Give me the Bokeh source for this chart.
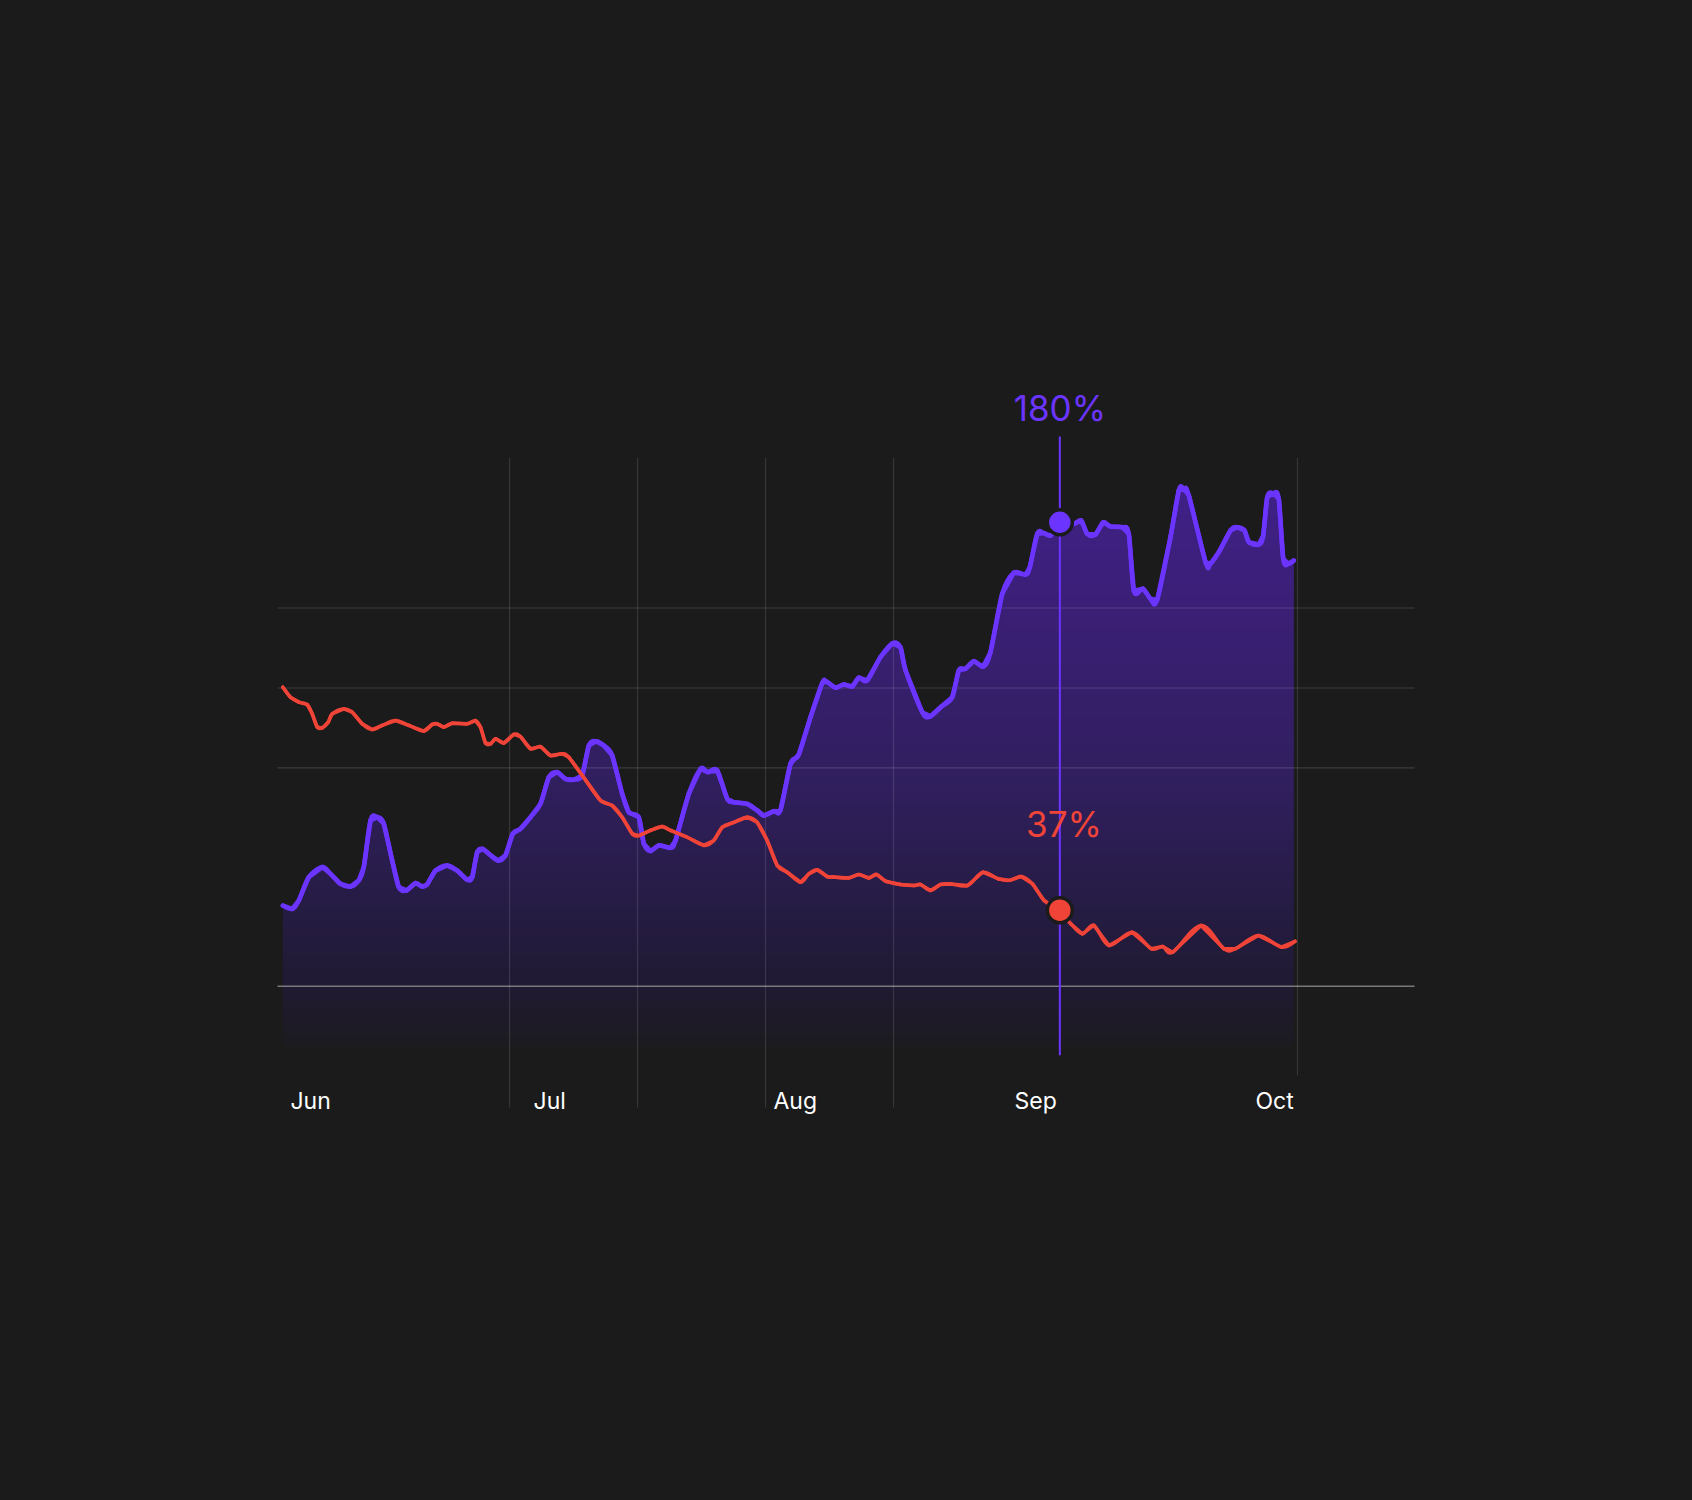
import numpy as np
from bokeh.plotting import figure
from bokeh.models import Range1d
from bokeh.core.properties import value
from bokeh.embed import file_html
from bokeh.resources import INLINE

# ---------------- data ----------------
months = ["Jun", "Jul", "Aug", "Sep", "Oct"]
month_label_day = [0.96, 30.26, 59.19, 88.25, 117.3]

growth_day = [0.04, 1.17, 1.97, 3.17, 4.79, 5.79, 6.99, 8.20, 9.20, 9.80,
              10.61, 11.42, 12.21, 13.22, 14.02, 14.95, 16.03, 16.84, 17.44, 18.44,
              19.86, 21.06, 22.27, 22.87, 23.47, 24.15, 24.87, 26.00, 26.88, 27.76,
              28.69, 29.90, 31.10, 32.10, 33.12, 34.12, 35.12, 36.13, 36.93, 37.82,
              38.73, 39.75, 40.95, 41.75, 42.95, 43.56, 44.36, 45.36, 46.78, 47.38,
              48.98, 50.39, 51.27, 52.41, 53.61, 54.41, 56.02, 57.23, 58.02, 59.23,
              60.04, 61.24, 62.24, 63.65, 65.06, 65.58, 66.67, 67.67, 68.68, 69.48,
              70.49, 72.09, 73.54, 74.50, 75.11, 77.12, 78.12, 79.33, 80.74, 81.53,
              82.34, 83.34, 84.47, 85.35, 86.76, 88.16, 89.57, 90.09, 90.98, 91.78,
              92.59, 93.71, 95.39, 96.29, 97.01, 98.01, 98.94, 99.82, 101.23, 102.03,
              102.63, 103.75, 104.63, 105.45, 107.05, 108.05, 108.66, 109.26, 111.27, 111.87,
              112.88, 114.29, 115.09, 115.97, 116.49, 117.70, 118.23, 118.71, 119.43, 120.11,
              120.64, 121.31, 121.92]
growth_pct = [38.7, 37.5, 40.6, 49.2, 52.9, 50.4, 46.7, 45.7, 48.0, 52.9,
              70.1, 71.3, 68.9, 55.3, 45.5, 44.3, 47.0, 45.7, 46.5, 51.6,
              53.5, 51.6, 48.2, 49.2, 58.4, 59.6, 57.8, 55.3, 57.2, 65.2,
              67.0, 71.3, 76.2, 86.0, 87.9, 85.4, 85.1, 86.7, 97.7, 99.3,
              97.7, 94.0, 79.9, 73.1, 71.3, 61.5, 58.8, 60.9, 60.0, 62.7,
              79.9, 89.1, 87.9, 88.5, 78.1, 76.8, 76.2, 73.8, 71.9, 73.5,
              74.0, 91.0, 94.4, 108.1, 120.7, 121.3, 119.0, 120.2, 119.5, 122.7,
              121.7, 130.3, 135.4, 133.9, 125.4, 110.0, 108.5, 111.8, 115.5, 125.4,
              126.0, 128.8, 126.8, 132.1, 153.6, 161.4, 160.7, 163.4, 175.7, 176.0,
              175.1, 178.5, 179.4, 180.6, 175.7, 175.5, 180.0, 178.4, 178.2, 175.7,
              154.8, 155.5, 151.8, 151.4, 174.5, 191.7, 192.3, 189.9, 165.3, 164.7,
              169.0, 177.0, 178.2, 177.0, 172.7, 171.8, 175.1, 189.2, 190.7, 188.6,
              166.5, 164.7, 165.9]

loss_day = [0.04, 0.96, 1.97, 2.98, 3.58, 4.18, 4.79, 5.51, 5.99, 7.39,
            8.40, 9.61, 10.81, 12.02, 13.62, 15.23, 17.03, 18.05, 18.65, 19.45,
            20.46, 22.27, 23.27, 23.87, 24.47, 25.08, 25.68, 26.68, 27.88, 28.69,
            29.90, 31.10, 32.31, 33.72, 34.52, 36.13, 38.34, 39.75, 40.95, 42.16,
            42.95, 44.36, 45.77, 46.78, 48.79, 50.79, 51.99, 53.01, 54.41, 56.02,
            57.23, 58.43, 59.64, 60.84, 62.45, 63.45, 64.46, 65.67, 66.46, 68.27,
            69.48, 70.68, 71.61, 72.69, 74.50, 76.10, 76.91, 78.12, 79.33, 80.53,
            82.58, 84.42, 86.27, 87.64, 89.04, 90.42, 91.81, 93.66, 95.03, 96.42,
            97.81, 99.65, 102.41, 104.73, 106.11, 107.31, 110.73, 113.49, 114.88, 117.64,
            120.41, 122.07]
loss_pct = [119.2, 115.5, 113.7, 112.8, 109.4, 104.5, 104.2, 106.3, 109.4, 111.2,
            110.0, 105.7, 103.6, 105.1, 106.9, 105.1, 103.0, 105.5, 105.7, 104.5,
            105.9, 105.7, 106.9, 104.5, 98.6, 98.3, 100.2, 98.6, 101.8, 101.0,
            96.5, 97.3, 94.0, 94.7, 93.4, 86.7, 77.4, 75.6, 71.3, 65.2,
            64.5, 66.4, 67.9, 66.4, 63.9, 60.9, 62.7, 67.6, 69.4, 71.3,
            69.4, 62.7, 53.5, 51.0, 47.3, 50.4, 51.9, 49.4, 49.2, 48.9,
            50.2, 48.9, 50.2, 47.7, 46.5, 46.1, 46.5, 44.3, 46.5, 46.7,
            46.1, 51.0, 48.6, 48.0, 49.4, 46.7, 40.6, 37.0, 32.0, 28.3,
            31.4, 24.0, 28.9, 22.8, 23.6, 21.5, 31.4, 22.8, 22.8, 27.7,
            23.4, 25.5]

highlight_day = 93.71
highlight_growth = 180
highlight_loss = 37

# ---------------- styling / layout ----------------
BG = "#1b1b1b"
PURPLE = "#6b35ff"
RED = "#f04438"

W, H = 1676, 1484
p = figure(width=W, height=H, output_backend="svg", toolbar_location=None,
           x_axis_location=None, y_axis_location=None,
           x_range=Range1d(-33.032, 169.017), y_range=Range1d(-177.63, 369.37),
           min_border=0, background_fill_color=BG, border_fill_color=BG,
           outline_line_color=None)
p.xgrid.visible = False
p.ygrid.visible = False

gx = np.array(growth_day)
gy = np.array(growth_pct)

# gradient fill under the growth series, drawn as stacked bands
stop_pos = [-16.5, 9.2, 40.6, 88.5, 144.0, 196.0]
stop_col = [(27, 27, 27), (32, 26, 50), (38, 28, 69), (49, 31, 96), (58, 31, 116), (64, 32, 136)]
edges = np.linspace(-16.5, 196.0, 86)
for lo, hi in zip(edges[:-1], edges[1:]):
    mid = 0.5 * (lo + hi)
    rgb = [int(round(np.interp(mid, stop_pos, [c[k] for c in stop_col]))) for k in range(3)]
    col = "#%02x%02x%02x" % tuple(rgb)
    p.varea(x=gx, y1=np.minimum(gy, lo - 0.5), y2=np.minimum(gy, hi),
            fill_color=col, fill_alpha=1.0)

# horizontal grid lines
h_grid = [148.4, 118.9, 89.5]
p.segment(x0=[-0.6] * 3, y0=h_grid, x1=[136.47] * 3, y1=h_grid,
          line_color="#ffffff", line_alpha=0.14, line_width=1.2)
# baseline
p.segment(x0=[-0.6], y0=[9.0], x1=[136.47], y1=[9.0],
          line_color="#8a8a8a", line_alpha=0.85, line_width=1.6)
# vertical grid lines
v_grid = [27.37, 42.80, 58.23, 73.66]
p.segment(x0=v_grid, y0=[203.7] * 4, x1=v_grid, y1=[-35.7] * 4,
          line_color="#ffffff", line_alpha=0.12, line_width=1.2)
p.segment(x0=[122.36], y0=[203.7], x1=[122.36], y1=[-23.9],
          line_color="#ffffff", line_alpha=0.12, line_width=1.2)

# crosshair
p.segment(x0=[highlight_day], y0=[211.6], x1=[highlight_day], y1=[-16.5],
          line_color=PURPLE, line_width=2)


def smooth_series(xs, ys, color, width):
    """Draw the series as a line plus smooth Catmull-Rom bezier segments through its points."""
    p.line(xs, ys, line_color=color, line_width=width, line_join="round", line_cap="round")
    X = np.asarray(xs, dtype=float)
    Y = np.asarray(ys, dtype=float)
    n = len(X)
    i0 = np.arange(n - 1)
    im = np.maximum(i0 - 1, 0)
    ip = np.minimum(i0 + 2, n - 1)
    cx0 = X[i0] + (X[i0 + 1] - X[im]) / 6.0
    cy0 = Y[i0] + (Y[i0 + 1] - Y[im]) / 6.0
    cx1 = X[i0 + 1] - (X[ip] - X[i0]) / 6.0
    cy1 = Y[i0 + 1] - (Y[ip] - Y[i0]) / 6.0
    p.bezier(x0=X[:-1], y0=Y[:-1], x1=X[1:], y1=Y[1:],
             cx0=cx0, cy0=cy0, cx1=cx1, cy1=cy1,
             line_color=color, line_width=width, line_cap="round")


smooth_series(growth_day, growth_pct, PURPLE, 4.5)
smooth_series(loss_day, loss_pct, RED, 3.5)

# highlight dots
p.scatter(x=[highlight_day], y=[highlight_growth], size=25, fill_color=PURPLE,
          line_color=BG, line_width=3.5)
p.scatter(x=[highlight_day], y=[highlight_loss], size=25, fill_color=RED,
          line_color=BG, line_width=3.5)

# value labels
p.text(x=[highlight_day], y=[222.2], text=[f"{highlight_growth}%"],
       text_font=value("Inter"), text_font_size="35px", text_color=PURPLE,
       text_align="center", text_baseline="alphabetic")
p.text(x=[highlight_day + 0.5], y=[68.6], text=[f"{highlight_loss}%"],
       text_font=value("Inter"), text_font_size="35px", text_color=RED,
       text_align="center", text_baseline="alphabetic")

# month labels
p.text(x=month_label_day, y=[-33.2] * len(months), text=months,
       text_font=value("Inter"), text_font_size="23px", text_color="#ffffff",
       text_align="left", text_baseline="alphabetic")

html = file_html(p, INLINE, title="chart")
html = html.replace("</head>",
                    "<style>html,body{background:#1b1b1b;}body{margin:8px;}</style></head>", 1)
with open("out.html", "w") as f:
    f.write(html)
